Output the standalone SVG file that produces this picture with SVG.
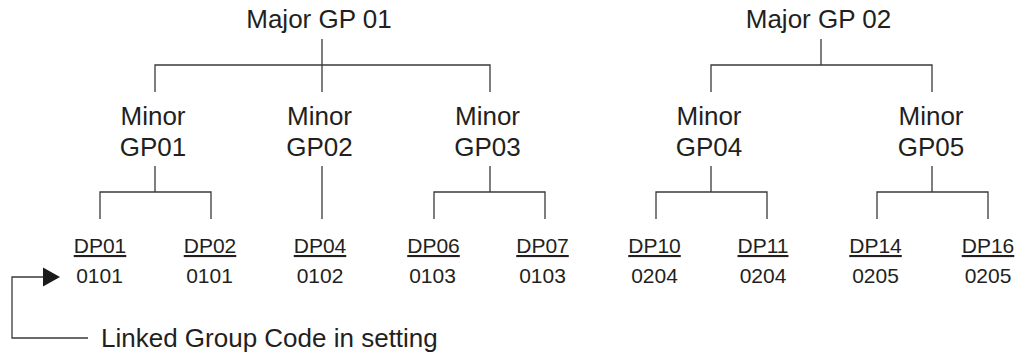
<svg xmlns="http://www.w3.org/2000/svg" width="1028" height="356" viewBox="0 0 1028 356">
<defs>
<style>
.big{font-family:"Liberation Sans",Arial,sans-serif;font-size:26px;fill:#231f20;text-anchor:middle}
.dp{font-family:"Liberation Sans",Arial,sans-serif;font-size:21px;fill:#231f20;text-anchor:middle;text-decoration:underline}
.code{font-family:"Liberation Sans",Arial,sans-serif;font-size:21px;fill:#231f20;text-anchor:middle}
.note{font-family:"Liberation Sans",Arial,sans-serif;font-size:26px;fill:#231f20}
.ln{fill:none;stroke:#3a3a3a;stroke-width:1.3}
</style>
</defs>
<rect width="1028" height="356" fill="#ffffff"/>
<g id="connectors">
<path class="ln" d="M322 39V92M155 92V65H490V92"/>
<path class="ln" d="M821 39V65M711 92V65H932V92"/>
<path class="ln" d="M155 166V192M100 219V192H211V219"/>
<path class="ln" d="M322 166V219"/>
<path class="ln" d="M490 166V192M434 219V192H545V219"/>
<path class="ln" d="M711 166V192M656 219V192H767V219"/>
<path class="ln" d="M932 166V192M877 219V192H988V219"/>
<path class="ln" d="M88 338H12V277H44"/>
<polygon points="43,267.5 60,277 43,286.5" fill="#1a1a1a"/>
</g>
<g id="major01"><text class="big" x="319" y="28">Major GP 01</text></g>
<g id="major02"><text class="big" x="818.5" y="28">Major GP 02</text></g>
<g id="minor01"><text class="big" x="153" y="125">Minor</text><text class="big" x="153" y="156">GP01</text></g>
<g id="minor02"><text class="big" x="319.5" y="125">Minor</text><text class="big" x="319.5" y="156">GP02</text></g>
<g id="minor03"><text class="big" x="487.5" y="125">Minor</text><text class="big" x="487.5" y="156">GP03</text></g>
<g id="minor04"><text class="big" x="709" y="125">Minor</text><text class="big" x="709" y="156">GP04</text></g>
<g id="minor05"><text class="big" x="931" y="125">Minor</text><text class="big" x="931" y="156">GP05</text></g>
<g id="dp01"><text class="dp" x="100" y="253">DP01</text><text class="code" x="99.5" y="283">0101</text></g>
<g id="dp02"><text class="dp" x="210" y="253">DP02</text><text class="code" x="209.5" y="283">0101</text></g>
<g id="dp04"><text class="dp" x="320" y="253">DP04</text><text class="code" x="320" y="283">0102</text></g>
<g id="dp06"><text class="dp" x="433.5" y="253">DP06</text><text class="code" x="432.5" y="283">0103</text></g>
<g id="dp07"><text class="dp" x="542.5" y="253">DP07</text><text class="code" x="542.5" y="283">0103</text></g>
<g id="dp10"><text class="dp" x="654.5" y="253">DP10</text><text class="code" x="654.5" y="283">0204</text></g>
<g id="dp11"><text class="dp" x="763" y="253">DP11</text><text class="code" x="763" y="283">0204</text></g>
<g id="dp14"><text class="dp" x="875.5" y="253">DP14</text><text class="code" x="875.5" y="283">0205</text></g>
<g id="dp16"><text class="dp" x="988" y="253">DP16</text><text class="code" x="988" y="283">0205</text></g>
<g id="note"><text class="note" x="101" y="347">Linked Group Code in setting</text></g>
</svg>
